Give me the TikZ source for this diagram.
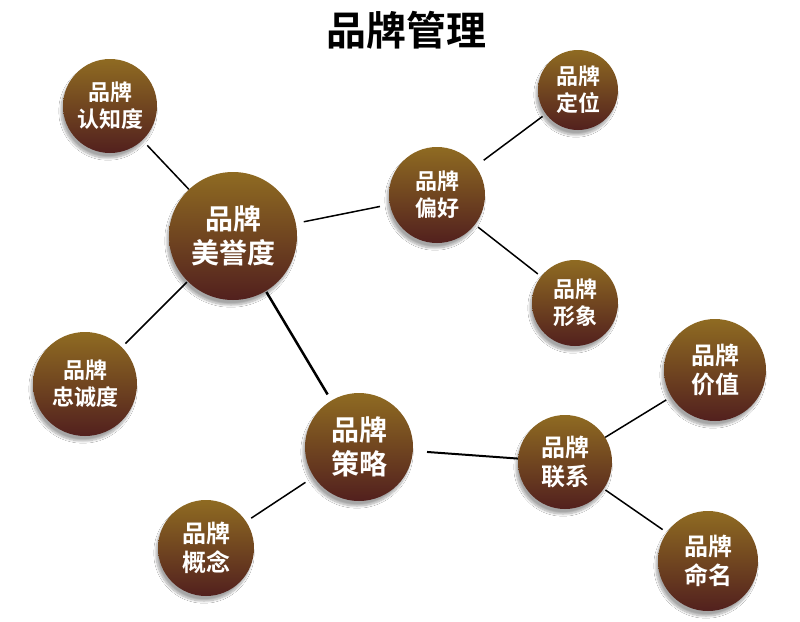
\documentclass[tikz,border=0pt]{standalone}
\usepackage{fontspec}
\setmainfont{Noto Sans CJK SC}[BoldFont={* Bold}]
\usepackage{xcolor}
\usepackage{tikz}
\usetikzlibrary{shadows.blur}
\definecolor{goldtop}{HTML}{8F6B22}
\definecolor{brownmid}{HTML}{5C2A1E}
\definecolor{brownbot}{HTML}{52201E}

\begin{document}
\begin{tikzpicture}[x=1pt, y=-1pt,
    ball/.style={circle, inner sep=0pt, align=center, text=white, font=\bfseries,
      top color=goldtop, middle color=brownmid, bottom color=brownbot, draw=none,
      blur shadow={shadow xshift=-2pt, shadow yshift=-5pt, shadow blur steps=12, shadow opacity=35}},
    sm/.style={ball, font=\bfseries\fontsize{22}{27}\selectfont},
    md/.style={ball, font=\bfseries\fontsize{24}{29}\selectfont},
    lg/.style={ball, font=\bfseries\fontsize{28}{34}\selectfont},
    link/.style={line width=1.5pt, black}]
    \useasboundingbox[fill=white] (0,0) rectangle (800,621);
    % title
    \node[font=\bfseries\fontsize{40}{40}\selectfont] (title) at (406,30) {品牌管理};
    % circles
    \node[lg, minimum size=128pt] (rep)     at (233,236) {品牌\\美誉度};
    \node[sm, minimum size=94pt]  (aware)   at (110,106) {品牌\\认知度};
    \node[sm, minimum size=96pt]  (pref)    at (437,195) {品牌\\偏好};
    \node[sm, minimum size=80pt]  (pos)     at (578,90)  {品牌\\定位};
    \node[sm, minimum size=86pt]  (image)   at (575,303) {品牌\\形象};
    \node[sm, minimum size=104pt] (loyal)   at (85,384)  {品牌\\忠诚度};
    \node[lg, minimum size=108pt] (strat)   at (359,447) {品牌\\策略};
    \node[md, minimum size=94pt]  (contact) at (565,462) {品牌\\联系};
    \node[md, minimum size=102pt] (worth)   at (715,370) {品牌\\价值};
    \node[md, minimum size=100pt] (naming)  at (708,561) {品牌\\命名};
    \node[md, minimum size=96pt]  (concept) at (206,548) {品牌\\概念};
    % connectors
    \draw[link, shorten <=7pt] (aware) -- (rep);
    \draw[link, shorten <=8pt, shorten >=10pt] (rep) -- (pref);
    \draw[link, shorten <=10pt, shorten >=4pt] (pref) -- (pos);
    \draw[link, shorten <=4pt, shorten >=4pt] (pref) -- (image);
    \draw[link, shorten <=1pt, shorten >=5pt] (rep) -- (loyal);
    \draw[line width=2.5pt, shorten <=1pt, shorten >=7pt] (rep) -- (strat);
    \draw[line width=2pt, shorten <=14pt] (strat) -- (contact);
    \draw[link, shorten <=10pt, shorten >=6pt] (strat) -- (concept);
    \draw[link, shorten >=6pt] (contact) -- (worth);
    \draw[link, shorten <=2pt, shorten >=5pt] (contact) -- (naming);
\end{tikzpicture}
\end{document}
